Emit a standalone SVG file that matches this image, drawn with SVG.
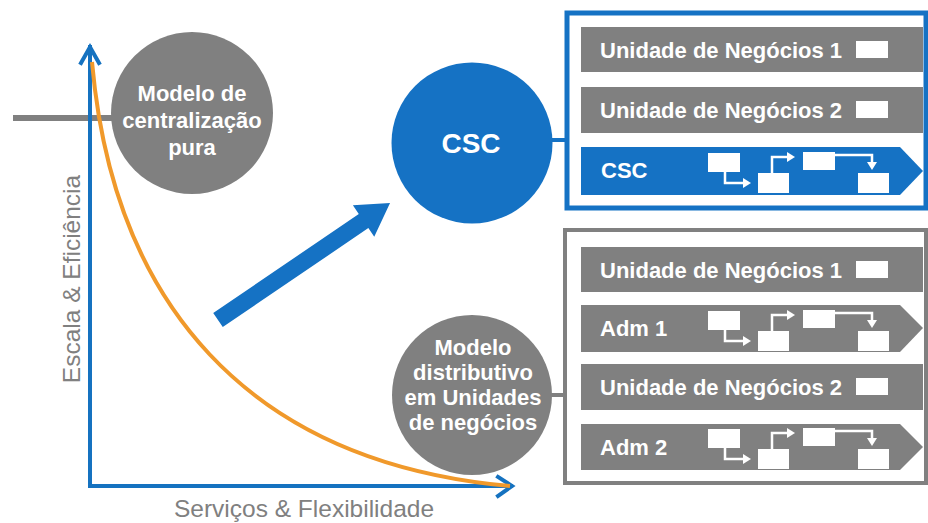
<svg xmlns="http://www.w3.org/2000/svg" width="928" height="523" viewBox="0 0 928 523">
<defs>
<style>
.ax{fill:none;stroke:#1572C0;stroke-width:4;stroke-linecap:square}
.axl{font-family:"Liberation Sans",Arial,sans-serif;font-size:24.5px;fill:#808080}
.ct{font-family:"Liberation Sans",Arial,sans-serif;font-weight:bold;font-size:22px;fill:#fff;text-anchor:middle}
.rt{font-family:"Liberation Sans",Arial,sans-serif;font-weight:bold;font-size:22px;fill:#fff}
.gray{fill:#808080}
.blue{fill:#1572C4}
.wl{fill:none;stroke:#fff;stroke-width:2.5}
.wf{fill:#fff}
</style>
<g id="proc">
<rect class="wf" x="127" y="6" width="32" height="19"/>
<path class="wl" d="M144,25 V36 H164"/>
<polygon class="wf" points="162,31 170,36 162,41"/>
<rect class="wf" x="177" y="26" width="31" height="20"/>
<path class="wl" d="M191,26 V10 H208"/>
<polygon class="wf" points="206,5 214,10 206,15"/>
<rect class="wf" x="222" y="5" width="32" height="18"/>
<path class="wl" d="M254,8 H291 V17"/>
<polygon class="wf" points="286,15 291,23 296,15"/>
<rect class="wf" x="277" y="26" width="31" height="20"/>
</g>
</defs>
<rect width="928" height="523" fill="#fff"/>

<g id="chart">
<line x1="13" y1="118" x2="115" y2="118" stroke="#808080" stroke-width="6"/>
<path class="ax" d="M90,47 V486 H511"/>
<path class="ax" d="M81,63 L90,47 L99,63" stroke-linecap="butt"/>
<path class="ax" d="M498,477 L512,486 L498,496" stroke-linecap="butt"/>
<path d="M92,62 C113,300 245,462 510,486" fill="none" stroke="#F0992B" stroke-width="4"/>
<text class="axl" transform="translate(80,279) rotate(-90)" text-anchor="middle">Escala &amp; Eficiência</text>
<text class="axl" x="304" y="517" text-anchor="middle">Serviços &amp; Flexibilidade</text>
</g>

<g id="arrow">
<polygon class="blue" transform="translate(218,320) rotate(-34.2)" points="0,-8.5 176,-8.5 176,-19 208,0 176,19 176,8.5 0,8.5"/>
</g>

<g id="connectors">
<line x1="550" y1="140" x2="567" y2="140" stroke="#1572C4" stroke-width="4"/>
<line x1="550" y1="395" x2="565" y2="395" stroke="#808080" stroke-width="4"/>
</g>

<g id="centralizacao">
<circle class="gray" cx="192" cy="113" r="81"/>
<text class="ct" x="192" y="101">Modelo de</text>
<text class="ct" x="192" y="128">centralização</text>
<text class="ct" x="192" y="155">pura</text>
</g>

<g id="csc-circle">
<circle class="blue" cx="472" cy="143" r="80.5"/>
<text class="ct" x="471" y="153" style="font-size:28px">CSC</text>
</g>

<g id="distributivo">
<circle class="gray" cx="472" cy="395" r="80"/>
<text class="ct" x="473" y="355">Modelo</text>
<text class="ct" x="473" y="380">distributivo</text>
<text class="ct" x="473" y="405">em Unidades</text>
<text class="ct" x="473" y="430">de negócios</text>
</g>

<g id="csc-frame">
<rect x="567" y="13" width="359" height="195" fill="none" stroke="#1572C4" stroke-width="5"/>
<g id="csc-un1">
<rect class="gray" x="581" y="27" width="342" height="45"/>
<text class="rt" x="600" y="58">Unidade de Negócios 1</text>
<rect class="wf" x="856" y="41" width="32" height="17"/>
</g>
<g id="csc-un2">
<rect class="gray" x="581" y="87" width="342" height="46"/>
<text class="rt" x="600" y="118">Unidade de Negócios 2</text>
<rect class="wf" x="856" y="101" width="32" height="17"/>
</g>
<g id="csc-row">
<polygon class="blue" points="581,147 900,147 923,171 900,195 581,195"/>
<text class="rt" x="601" y="178">CSC</text>
<use href="#proc" transform="translate(581,147)"/>
</g>
</g>

<g id="dist-frame">
<rect x="565" y="230" width="361" height="253" fill="none" stroke="#808080" stroke-width="4"/>
<g id="dist-un1">
<rect class="gray" x="581" y="247" width="342" height="45"/>
<text class="rt" x="600" y="278">Unidade de Negócios 1</text>
<rect class="wf" x="856" y="261" width="32" height="17"/>
</g>
<g id="adm1">
<polygon class="gray" points="581,305 900,305 923,328 900,352 581,352"/>
<text class="rt" x="600" y="336">Adm 1</text>
<use href="#proc" transform="translate(581,305)"/>
</g>
<g id="dist-un2">
<rect class="gray" x="581" y="364" width="342" height="46"/>
<text class="rt" x="600" y="395">Unidade de Negócios 2</text>
<rect class="wf" x="856" y="378" width="32" height="17"/>
</g>
<g id="adm2">
<polygon class="gray" points="581,424 900,424 923,447 900,470 581,470"/>
<text class="rt" x="600" y="455">Adm 2</text>
<use href="#proc" transform="translate(581,423)"/>
</g>
</g>
</svg>
